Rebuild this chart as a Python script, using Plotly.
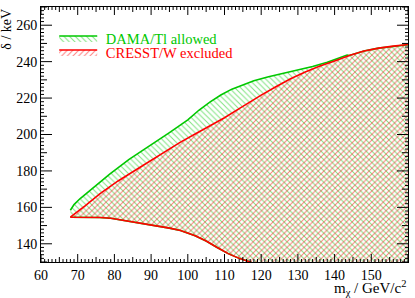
import plotly.graph_objects as go

# DAMA/Tl allowed: upper boundary (m_chi [GeV/c^2], delta [keV])
dama_upper_m = [68, 69, 70.6, 74, 78.8, 84, 89.7, 95, 100, 103, 106, 109, 112, 115, 118, 122, 126, 130, 134, 138, 143.4]
dama_upper_d = [158.4, 161.5, 164.7, 170.5, 178.4, 186.3, 193.8, 201, 208, 213.3, 217.8, 221.7, 224.9, 227.4, 229.5, 231.7, 233.5, 235.3, 237.3, 239.7, 243.6]

# CRESST/W excluded: upper boundary
cresst_upper_m = [68, 70, 72, 76.1, 81, 87, 92, 97.9, 102, 106, 110, 114, 117, 120, 124, 128, 132, 136, 140, 144, 148, 152, 156, 160, 165]
cresst_upper_d = [154.6, 157.5, 160.8, 167.5, 174.5, 182, 188.5, 195.7, 200.3, 204.7, 209.2, 214.2, 218, 221.6, 226.2, 230.6, 234.3, 237.6, 240.4, 243.4, 245.8, 247.4, 248.5, 249.4, 250.5]

# CRESST/W excluded: lower boundary
cresst_lower_m = [68, 72, 76, 79, 82, 85, 88, 92, 95, 98, 100, 102, 105, 108, 111, 114, 117, 120, 130]
cresst_lower_d = [154.6, 154.6, 154.4, 154, 153.2, 152.1, 151, 149.6, 148.6, 147.3, 146, 144.4, 141.5, 138, 134.6, 132, 130, 127.5, 118]

# axis ranges and tick values (major / medium / minor)
x_range = [60, 160]
y_range = [130, 270]
x_major = list(range(60, 161, 10))
x_medium = list(range(65, 160, 10))
x_minor = [v for v in range(61, 160) if v % 5 != 0]
y_major = list(range(140, 261, 20))
y_medium = list(range(130, 271, 20))
y_minor = [v for v in range(132, 270, 2) if v % 10 != 0]

GREEN = "#00c800"
RED = "#ff0000"
FONT = "Liberation Serif"

W, H = 415, 298
MARGIN = dict(l=41, r=7, t=7, b=36)
PLOT_W = W - MARGIN["l"] - MARGIN["r"]
PLOT_H = H - MARGIN["t"] - MARGIN["b"]

edge_m = [165, 165]
edge_d = [250.5, 100]

merge_idx = [i for i, m in enumerate(cresst_upper_m) if m > dama_upper_m[-1]]
g_x = dama_upper_m + [cresst_upper_m[i] for i in merge_idx] + edge_m + cresst_lower_m[::-1]
g_y = dama_upper_d + [cresst_upper_d[i] for i in merge_idx] + edge_d + cresst_lower_d[::-1]

r_x = cresst_upper_m + edge_m + cresst_lower_m[::-1]
r_y = cresst_upper_d + edge_d + cresst_lower_d[::-1]

fig = go.Figure()
fig.add_trace(go.Scatter(
    x=g_x, y=g_y, mode="lines", fill="toself", name="&nbsp;DAMA/Tl allowed",
    line=dict(color=GREEN, width=1.6),
    fillcolor="rgba(0,0,0,0)",
    fillpattern=dict(shape="\\", fgcolor=GREEN, bgcolor="rgba(0,0,0,0)", size=4, solidity=0.25),
    legend="legend", hoverinfo="skip",
))
fig.add_trace(go.Scatter(
    x=r_x, y=r_y, mode="lines", fill="toself", name="&nbsp;CRESST/W excluded",
    line=dict(color=RED, width=1.6),
    fillcolor="rgba(0,0,0,0)",
    fillpattern=dict(shape="/", fgcolor=RED, bgcolor="rgba(0,0,0,0)", size=4, solidity=0.25),
    legend="legend2", hoverinfo="skip",
))

# ROOT-style tick marks on all four sides, drawn as one line trace
# (tick lengths in pixels, converted to data units of the other axis)
x_per_px = (x_range[1] - x_range[0]) / PLOT_W
y_per_px = (y_range[1] - y_range[0]) / PLOT_H
tx, ty = [], []
for vals, L in ((x_major, 8), (x_medium, 5), (x_minor, 3)):
    dy = L * y_per_px
    for v in vals:
        tx += [v, v, None, v, v, None]
        ty += [y_range[0], y_range[0] + dy, None, y_range[1], y_range[1] - dy, None]
for vals, L in ((y_major, 11), (y_medium, 6), (y_minor, 3)):
    dx = L * x_per_px
    for v in vals:
        tx += [x_range[0], x_range[0] + dx, None, x_range[1], x_range[1] - dx, None]
        ty += [v, v, None, v, v, None]
fig.add_trace(go.Scatter(
    x=tx, y=ty, mode="lines", line=dict(color="black", width=1),
    showlegend=False, hoverinfo="skip", connectgaps=False,
))

axis_common = dict(
    showgrid=False, zeroline=False, showline=True, linecolor="black", linewidth=1,
    mirror=True, ticks="", automargin=False,
    tickfont=dict(family=FONT, size=14, color="black"),
)
fig.update_xaxes(range=x_range, tickmode="array", tickvals=x_major, **axis_common)
fig.update_yaxes(range=y_range, tickmode="array", tickvals=y_major, **axis_common)

fig.add_annotation(text="δ / keV", xref="paper", yref="paper", x=-0.095, y=1.0,
                   xanchor="center", yanchor="top", textangle=-90, showarrow=False,
                   font=dict(family=FONT, size=14, color="black"))
fig.add_annotation(text="m<sub>χ</sub> / GeV/c<sup>2</sup>", xref="paper", yref="paper",
                   x=1.0, y=-0.055, xanchor="right", yanchor="top", showarrow=False,
                   font=dict(family=FONT, size=15, color="black"))

leg_common = dict(xanchor="left", yanchor="middle", bgcolor="rgba(0,0,0,0)",
                  borderwidth=0, itemwidth=38)
fig.update_layout(
    width=W, height=H,
    margin=dict(**MARGIN, autoexpand=False),
    paper_bgcolor="white", plot_bgcolor="white",
    showlegend=True,
    legend=dict(x=0.036, y=0.878, font=dict(family=FONT, size=14.5, color=GREEN), **leg_common),
    legend2=dict(x=0.036, y=0.823, font=dict(family=FONT, size=14.5, color=RED), **leg_common),
)

fig.write_html(
    "out.html",
    config={"displayModeBar": False},
    post_script="document.body.style.margin='0';document.body.style.overflow='hidden';",
)
